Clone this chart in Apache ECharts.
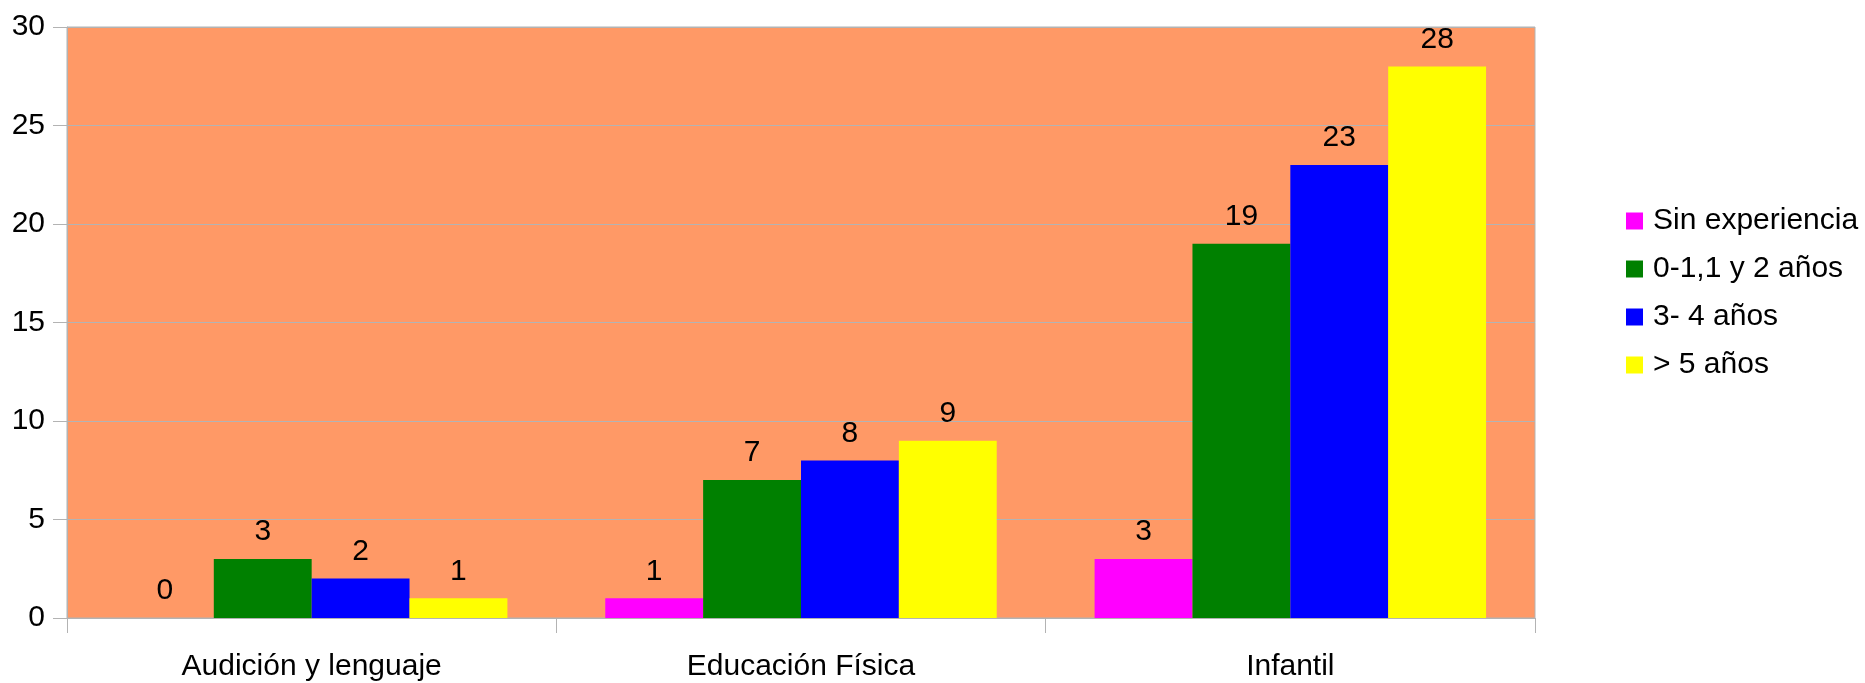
<!DOCTYPE html>
<html>
<head>
<meta charset="utf-8">
<script src="https://cdn.jsdelivr.net/npm/echarts@6/dist/echarts.min.js"></script>
<style>
html,body{margin:0;padding:0;background:#fff;}
#chart{width:1865px;height:683px;}
</style>
</head>
<body>
<div id="chart"></div>
<script>
const categories = ['Audición y lenguaje', 'Educación Física', 'Infantil'];
const seriesNames = ['Sin experiencia', '0-1,1 y 2 años', '3- 4 años', '> 5 años'];
const sinExperiencia = [0, 1, 3];
const anos0a2 = [3, 7, 19];
const anos3a4 = [2, 8, 23];
const anosMas5 = [1, 9, 28];
const yTicks = [0, 5, 10, 15, 20, 25, 30];
const colors = ['#ff00ff', '#008000', '#0000ff', '#ffff00'];

const values = [sinExperiencia, anos0a2, anos3a4, anosMas5];
const FONT = 'Liberation Sans';

const chart = echarts.init(document.getElementById('chart'), null, {renderer: 'canvas'});
chart.setOption({
  animation: false,
  textStyle: {fontFamily: FONT},
  grid: {
    left: 67, right: 330, top: 27, bottom: 65,
    show: true, backgroundColor: '#ff9966', borderColor: '#b3b3b3', borderWidth: 1
  },
  legend: {
    orient: 'vertical',
    left: 1626, top: 206,
    padding: 0,
    itemWidth: 17, itemHeight: 17, itemGap: 18,
    icon: 'rect',
    textStyle: {fontFamily: FONT, fontSize: 30, color: '#000', lineHeight: 30, padding: [0, 0, 0, 5]},
    data: seriesNames
  },
  xAxis: {
    type: 'category',
    data: categories,
    axisLine: {lineStyle: {color: '#b3b3b3', width: 1}},
    axisTick: {show: true, length: 15, lineStyle: {color: '#b3b3b3'}},
    axisLabel: {fontFamily: FONT, fontSize: 30, color: '#000', margin: 34}
  },
  yAxis: {
    type: 'value',
    min: yTicks[0], max: yTicks[yTicks.length - 1], interval: yTicks[1] - yTicks[0],
    axisLine: {show: true, lineStyle: {color: '#b3b3b3', width: 1}},
    axisTick: {show: true, length: 14, lineStyle: {color: '#b3b3b3'}},
    splitLine: {show: true, lineStyle: {color: '#b3b3b3', width: 1}},
    axisLabel: {fontFamily: FONT, fontSize: 30, color: '#000', margin: 22}
  },
  series: seriesNames.map((name, i) => ({
    name: name,
    type: 'bar',
    data: values[i],
    itemStyle: {color: colors[i]},
    barGap: '0%',
    barCategoryGap: '20%',
    label: {show: true, position: 'top', distance: 12, fontFamily: FONT, fontSize: 30, color: '#000'}
  }))
});
</script>
</body>
</html>
